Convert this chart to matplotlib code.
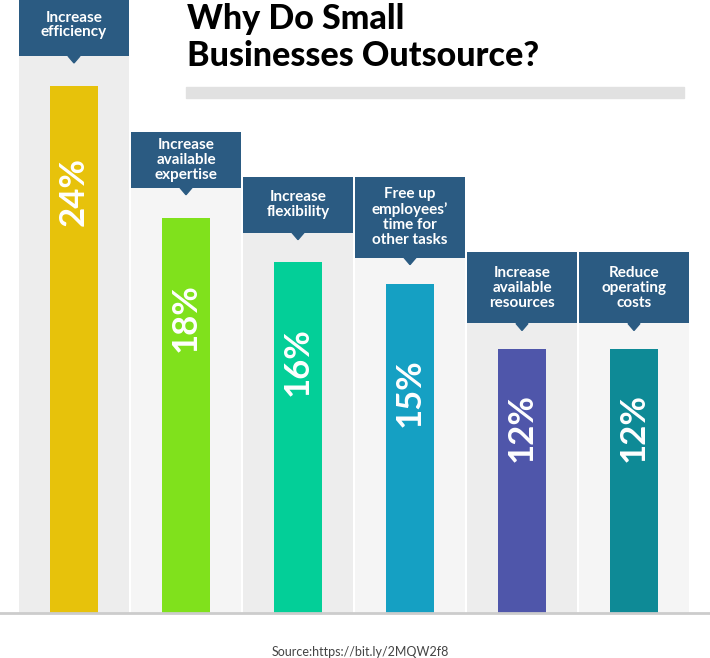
import matplotlib.pyplot as plt
from matplotlib.patches import Polygon, Rectangle

plt.rcParams['font.family'] = ['Lato', 'DejaVu Sans']

# data
labels = ["Increase\nefficiency", "Increase\navailable\nexpertise", "Increase\nflexibility",
          "Free up\nemployees\u2019\ntime for\nother tasks", "Increase\navailable\nresources",
          "Reduce\noperating\ncosts"]
values = [24, 18, 16, 15, 12, 12]
bar_colors = ['#e7c20b', '#80e11c', '#03cf98', '#15a0c3', '#4f56aa', '#0e8a96']
bg_colors = ['#ededed', '#f5f5f5', '#ededed', '#f5f5f5', '#ededed', '#f5f5f5']
box_color = '#2b5b82'

# layout in pixels
gap_px = [30, 30, 29, 26, 26, 26]        # bar top -> box bottom
box_h_px = [62, 56, 56, 81, 71, 71]
text_off_px = [106, 100, 100, 109, 78, 78]  # bar top -> centre of % label

W, H = 710, 658
fig = plt.figure(figsize=(W / 100, H / 100), dpi=100)
ax = fig.add_axes([0, 0, 1, 1])
ax.axis('off')

# column pitch 112 px, first centre at 74 px; baseline at 45 px from bottom, 21.96 px per %
px_x = 1 / 112
px_y = 1 / 21.96
ax.set_xlim(-74 * px_x, (W - 74) * px_x)
ax.set_ylim(-45 * px_y, (H - 45) * px_y)

x = list(range(len(values)))
box_bottom = [v + g * px_y for v, g in zip(values, gap_px)]

# grey column backgrounds
ax.bar(x, [b + 1 * px_y for b in box_bottom], width=110 * px_x, color=bg_colors, zorder=1)

# bars
ax.bar(x, values, width=48 * px_x, color=bar_colors, zorder=2)

# label boxes with pointer
box_h = [h * px_y for h in box_h_px]
ax.bar(x, box_h, bottom=box_bottom, width=110 * px_x, color=box_color, zorder=3)
for i, b in enumerate(box_bottom):
    tri = Polygon([(i - 6 * px_x, b), (i + 6 * px_x, b), (i, b - 7 * px_y)],
                  closed=True, color=box_color, zorder=3)
    ax.add_patch(tri)
    ax.text(i, b + box_h[i] / 2, labels[i], ha='center', va='center', color='white',
            fontsize=11, fontweight='bold', linespacing=1.08, zorder=4)
    ax.text(i, values[i] - text_off_px[i] * px_y, f"{values[i]}%", rotation=90,
            ha='center', va='center', color='white', fontsize=25, fontweight='bold', zorder=4)

# baseline
ax.axhline(0, color='#cccccc', lw=2, zorder=5)

# title
fig.text(187 / W, 1 - 29 / H, "Why Do Small", fontsize=24.5, fontweight='black',
         color='black', va='baseline')
fig.text(187 / W, 1 - 66 / H, "Businesses Outsource?", fontsize=24.5, fontweight='black',
         color='black', va='baseline')
fig.patches.append(Rectangle((186 / W, 1 - 98 / H), 498 / W, 11 / H,
                             transform=fig.transFigure, color='#e1e1e1', zorder=0))

# source
fig.text(360 / W, 1 - 652 / H, "Source:https://bit.ly/2MQW2f8", ha='center', va='center',
         fontsize=9, color='#444444')

plt.savefig("out.png", dpi=100)
